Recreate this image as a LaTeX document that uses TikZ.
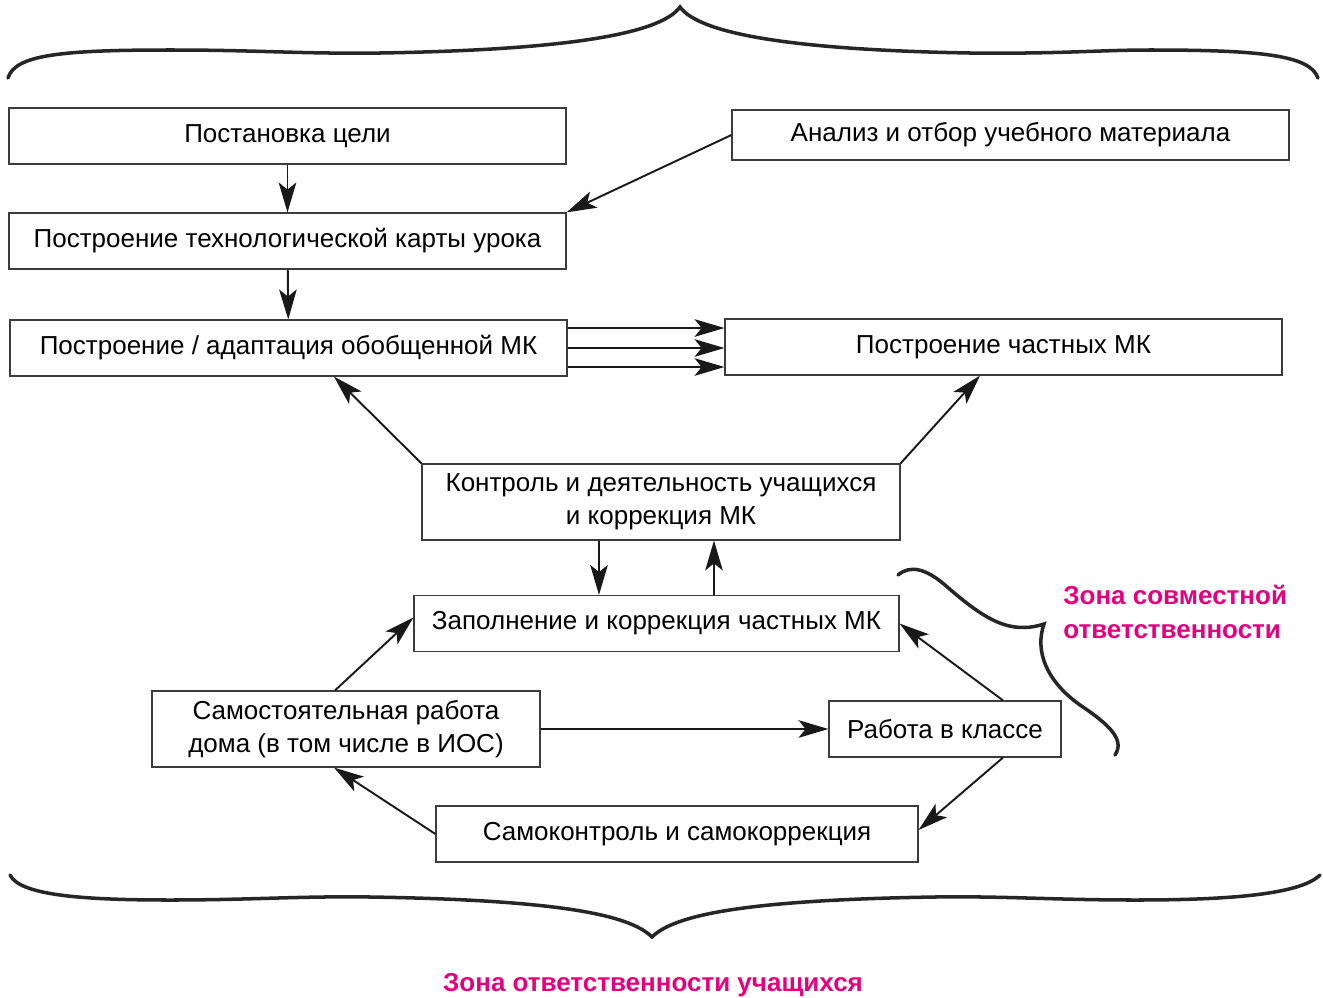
\documentclass[tikz,border=0pt]{standalone}
\usepackage{fontspec}
\setmainfont{Liberation Sans}
\usepackage{tikz}
\usetikzlibrary{arrows.meta}
\definecolor{zonapink}{RGB}{230,0,126}
\definecolor{ramka}{RGB}{60,60,60}
\tikzset{
	blok/.style={rectangle, draw=ramka, line width=0.7pt, inner sep=0pt, align=center, minimum width=11.14cm, minimum height=1.12cm, font=\fontsize{14.8}{19}\selectfont},
	strelka/.style={-{Stealth[length=17pt, width=10pt, inset=4pt]}, line width=1.1pt, color=black!90},
	skobka/.style={line width=2pt, color=black!85, line cap=round},
	zona/.style={color=zonapink, inner sep=0pt, font=\bfseries\fontsize{14.8}{19}\selectfont}
}
\begin{document}
\begin{tikzpicture}[x=0.02cm, y=-0.02cm]
			\useasboundingbox (0,0) rectangle (1323,998);
			\node[blok] (cel) at (287.5,136) {Постановка цели};
			\node[blok, minimum height=1cm] (analiz) at (1010.5,135) {Анализ и отбор учебного материала};
			\node[blok] (karta) at (287.5,241) {Построение технологической карты урока};
			\node[blok] (obobsh) at (288.5,348) {Построение / адаптация обобщенной МК};
			\node[blok] (chast) at (1003.5,347) {Построение частных МК};
			\node[blok, minimum width=9.56cm, minimum height=1.52cm] (kontrol) at (661,502) {Контроль и деятельность учащихся\\и коррекция МК};
			\node[blok, minimum width=9.7cm] (zapoln) at (656.5,623.5) {Заполнение и коррекция частных МК};
			\node[blok, minimum width=7.76cm, minimum height=1.52cm] (samost) at (346,729) {Самостоятельная работа\\дома (в том числе в ИОС)};
			\node[blok, minimum width=4.64cm] (klass) at (945,729) {Работа в классе};
			\node[blok, minimum width=9.64cm] (samokontr) at (677,834) {Самоконтроль и самокоррекция};
			
			\draw[strelka] (cel) -- (karta);
			\draw[strelka] (analiz.west) -- (karta.north east);
			\draw[strelka] (karta) -- (obobsh);
			\draw[strelka] ([yshift=0.4cm]obobsh.east) -- ([yshift=0.4cm]obobsh.east -| chast.west);
			\draw[strelka] (obobsh.east) -- (obobsh.east -| chast.west);
			\draw[strelka] ([yshift=-0.38cm]obobsh.east) -- ([yshift=-0.38cm]obobsh.east -| chast.west);
			\draw[strelka] (kontrol.north west) -- ([xshift=0.91cm]obobsh.south);
			\draw[strelka] (kontrol.north east) -- ([xshift=-0.47cm]chast.south);
			\draw[strelka] ([xshift=-1.24cm]kontrol.south) -- ([xshift=-1.15cm]zapoln.north);
			\draw[strelka] ([xshift=1.15cm]zapoln.north) -- ([xshift=1.06cm]kontrol.south);
			\draw[strelka] ([xshift=-0.22cm]samost.north) -- ([yshift=0.12cm]zapoln.west);
			\draw[strelka] (samost.east) -- (klass.west);
			\draw[strelka] ([xshift=1.16cm]klass.north) -- (zapoln.east);
			\draw[strelka] ([xshift=1.16cm]klass.south) -- ([yshift=0.08cm]samokontr.east);
			\draw[strelka] (samokontr.west) -- ([xshift=-0.24cm]samost.south);
			
			\draw[skobka] (8,78) .. controls (15,55) and (60,50) .. (170,50) .. controls (260,50) and (300,54) .. (380,53) .. controls (560,50) and (660,35) .. (680,7)
				.. controls (700,35) and (800,50) .. (970,53) .. controls (1060,54) and (1100,50) .. (1150,50) .. controls (1260,50) and (1310,55) .. (1318,78);
			\draw[skobka] (10,875) .. controls (20,895) and (80,900) .. (170,900) .. controls (250,900) and (300,896) .. (370,897) .. controls (560,900) and (630,915) .. (652,937)
				.. controls (674,915) and (745,900) .. (935,897) .. controls (1005,896) and (1055,900) .. (1135,900) .. controls (1225,900) and (1300,895) .. (1320,875);
			\draw[skobka] (898,575) .. controls (910,565) and (925,568) .. (945,585) .. controls (985,620) and (1010,635) .. (1044,624)
				.. controls (1035,650) and (1045,680) .. (1080,705) .. controls (1110,725) and (1125,740) .. (1115,755);
			
			\node[zona, align=left, anchor=west] (sovm) at (1063,612) {Зона совместной\\ответственности};
			\node[zona] (uchash) at (653,985) {Зона ответственности учащихся};
		\end{tikzpicture}
\end{document}
